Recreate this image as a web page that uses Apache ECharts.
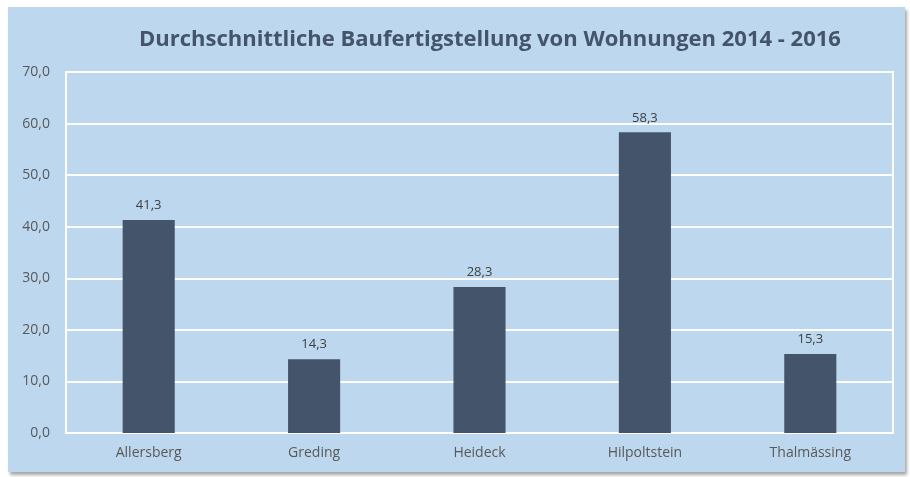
<!DOCTYPE html>
<html><head><meta charset="utf-8">
<script src="https://cdn.jsdelivr.net/npm/echarts@6/dist/echarts.min.js"></script>
<style>
html,body{margin:0;padding:0;background:#fff;width:910px;height:477px;overflow:hidden;}
#panel{position:absolute;left:8px;top:7px;width:897px;height:465px;background:#BDD7EE;box-shadow:2px 3px 3px rgba(0,0,0,0.35);}
#chart{width:897px;height:465px;}
</style></head>
<body><div id="panel"><div id="chart"></div></div>
<script>
const titleText = 'Durchschnittliche Baufertigstellung von Wohnungen 2014 - 2016';
const categories = ['Allersberg','Greding','Heideck','Hilpoltstein','Thalmässing'];
const values = [41.3, 14.3, 28.3, 58.3, 15.3];
const yTicks = [0, 10, 20, 30, 40, 50, 60, 70];

const fmt = v => v.toFixed(1).replace('.', ',');
const chart = echarts.init(document.getElementById('chart'));
chart.setOption({
  backgroundColor: 'transparent',
  animation: false,
  textStyle: {fontFamily: 'Open Sans'},
  title: {
    text: titleText, left: 126, top: 17,
    textStyle: {fontFamily: 'Open Sans', fontWeight: 'bold', fontSize: 22, color: '#44546A'}
  },
  grid: {left: 58, right: 12, top: 65, bottom: 39, show: true, borderColor: '#fff', borderWidth: 2, backgroundColor: 'transparent'},
  xAxis: {
    type: 'category', data: categories,
    axisLine: {show: false}, axisTick: {show: false},
    axisLabel: {color: '#595959', fontSize: 14, margin: 13}
  },
  yAxis: {
    type: 'value', min: yTicks[0], max: yTicks[yTicks.length-1], interval: 10,
    axisLine: {show: false}, axisTick: {show: false},
    splitLine: {lineStyle: {color: '#fff', width: 2}},
    axisLabel: {color: '#595959', fontSize: 14, margin: 16, formatter: fmt}
  },
  series: [{
    type: 'bar', data: values, barWidth: '31.5%',
    itemStyle: {color: '#44546A'},
    label: {show: true, position: 'top', distance: 8, color: '#404040', fontSize: 13, formatter: p => fmt(p.value)}
  }]
});
</script></body></html>
